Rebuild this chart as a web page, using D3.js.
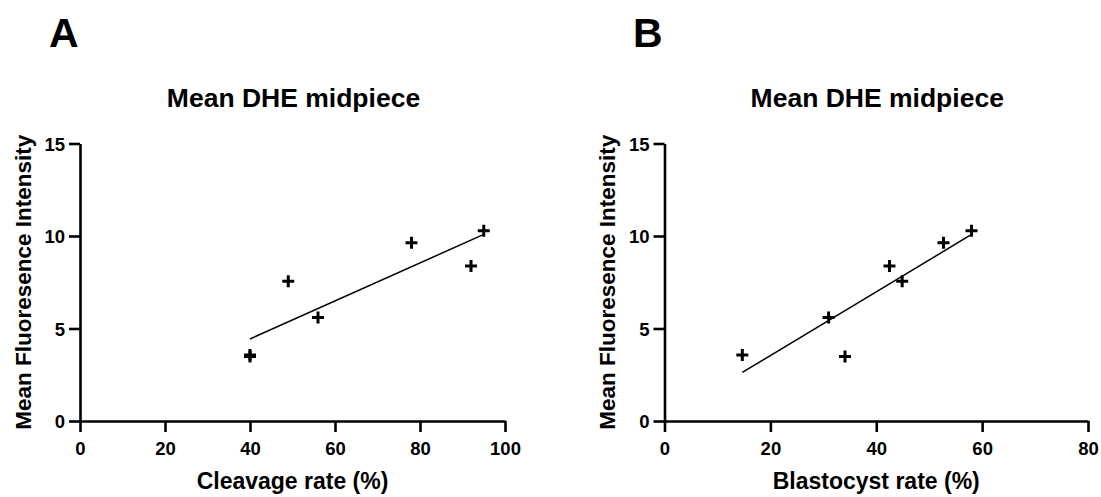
<!DOCTYPE html>
<html>
<head>
<meta charset="utf-8">
<script src="https://cdn.jsdelivr.net/npm/d3@7"></script>
<style>
  body { margin: 0; background: #fff; }
  svg text { font-family: "Liberation Sans", Arial, sans-serif; font-weight: bold; fill: #000; }
</style>
</head>
<body>
<div id="chart"></div>
<script>
"use strict";

// values
var mfi = [3.57, 3.48, 7.55, 5.6, 9.64, 8.38, 10.29];
var cleavage = [40, 40, 49, 56, 78, 92, 95];
var blastocyst = [14.7, 34.1, 44.9, 31.0, 52.7, 42.5, 58.0];
var yTicks = [0, 5, 10, 15];
var xTicksA = [0, 20, 40, 60, 80, 100];
var xTicksB = [0, 20, 40, 60, 80];

var svg = d3.select("#chart").append("svg")
    .attr("width", 1101)
    .attr("height", 497);

function linreg(xs, ys) {
    var mx = d3.mean(xs), my = d3.mean(ys);
    var sxy = d3.sum(xs, function(x, i) { return (x - mx) * (ys[i] - my); });
    var sxx = d3.sum(xs, function(x) { return (x - mx) * (x - mx); });
    var b = sxy / sxx;
    return { a: my - b * mx, b: b };
}

function panel(opt) {
    var x = d3.scaleLinear().domain([0, opt.xmax]).range([opt.left, opt.right]);
    var y = d3.scaleLinear().domain([0, 15]).range([421, 143.5]);

    svg.append("text")
        .attr("x", opt.letterX).attr("y", 47)
        .style("font-size", "41px")
        .text(opt.letter);

    svg.append("text")
        .attr("x", (opt.left + opt.right) / 2 + 1).attr("y", 107)
        .attr("text-anchor", "middle")
        .style("font-size", "26.5px")
        .text("Mean DHE midpiece");

    var gx = svg.append("g")
        .attr("transform", "translate(0,421)")
        .call(d3.axisBottom(x).tickValues(opt.xticks).tickSize(11).tickSizeOuter(0).tickPadding(10));
    var gy = svg.append("g")
        .attr("transform", "translate(" + opt.left + ",0)")
        .call(d3.axisLeft(y).tickValues(yTicks).tickSize(11).tickSizeOuter(0).tickPadding(4));

    [gx, gy].forEach(function(g) {
        g.select(".domain").attr("stroke", "#000").attr("stroke-width", 2.6);
        g.selectAll(".tick line").attr("stroke", "#000").attr("stroke-width", 2.6);
        g.selectAll(".tick text")
            .style("font-size", "18.5px")
            .style("font-family", "Liberation Sans, Arial, sans-serif")
            .style("font-weight", "bold")
            .attr("fill", "#000");
    });
    gy.selectAll(".tick text").attr("dy", "0.36em");

    svg.append("text")
        .attr("x", (opt.left + opt.right) / 2).attr("y", 489)
        .attr("text-anchor", "middle")
        .style("font-size", "23px")
        .text(opt.xlabel);

    svg.append("text")
        .attr("transform", "translate(" + opt.ylabelX + "," + y(7.5) + ") rotate(-90)")
        .attr("text-anchor", "middle")
        .style("font-size", "22.5px")
        .text("Mean Fluoresence Intensity");

    var fit = linreg(opt.xs, mfi);
    var ext = d3.extent(opt.xs);
    svg.append("line")
        .attr("x1", x(ext[0])).attr("y1", y(fit.a + fit.b * ext[0]))
        .attr("x2", x(ext[1])).attr("y2", y(fit.a + fit.b * ext[1]))
        .attr("stroke", "#000")
        .attr("stroke-width", 1.5);

    svg.append("g").selectAll("path")
        .data(opt.xs.map(function(v, i) { return [v, mfi[i]]; }))
        .enter().append("path")
        .attr("transform", function(d) { return "translate(" + x(d[0]) + "," + y(d[1]) + ")"; })
        .attr("d", "M-6,0H6M0,-6V6")
        .attr("stroke", "#000")
        .attr("stroke-width", 3);
}

panel({ letter: "A", letterX: 49, left: 80, right: 505, xmax: 100, xticks: xTicksA,
        xs: cleavage, xlabel: "Cleavage rate (%)", ylabelX: 31 });
panel({ letter: "B", letterX: 633, left: 664.5, right: 1088, xmax: 80, xticks: xTicksB,
        xs: blastocyst, xlabel: "Blastocyst rate (%)", ylabelX: 615 });
</script>
</body>
</html>
